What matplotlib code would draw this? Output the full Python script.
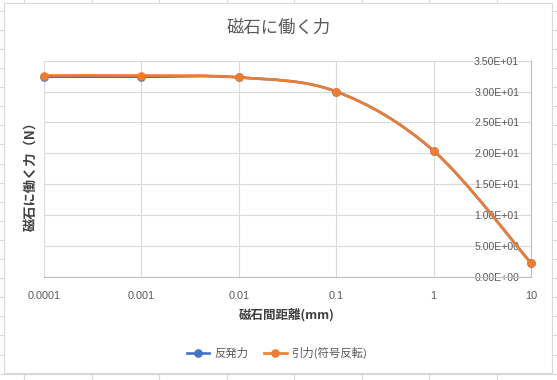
import numpy as np
import matplotlib
matplotlib.use("Agg")
import matplotlib.pyplot as plt
from matplotlib.path import Path
from matplotlib.patches import PathPatch, Rectangle
from matplotlib.lines import Line2D
from matplotlib.ticker import FuncFormatter

# data
distance_mm = [0.0001, 0.001, 0.01, 0.1, 1, 10]
repulsion = [32.4, 32.4, 32.3, 30.0, 20.4, 2.2]
attraction_inv = [32.6, 32.6, 32.3, 30.0, 20.4, 2.2]
series_names = ['反発力', '引力(符号反転)']
series_colors = ['#4472C4', '#ED7D31']
x_ticks = [0.0001, 0.001, 0.01, 0.1, 1, 10]
x_tick_labels = ['0.0001', '0.001', '0.01', '0.1', '1', '10']
y_ticks = [0, 5, 10, 15, 20, 25, 30, 35]

W, H = 557, 380
CJK = ['Noto Sans CJK JP', 'DejaVu Sans']
TXT = '#595959'
GRID = '#d9d9d9'


def fx(px):
    return px / W


def fy(py):
    return 1 - py / H


def smooth_path(xs, ys):
    # Excel-like smoothed line: Catmull-Rom bezier built in log-x space
    u = np.log10(np.asarray(xs, float))
    v = np.asarray(ys, float)
    pts = np.column_stack([u, v])
    ext = np.vstack([pts[:1], pts, pts[-1:]])
    verts = [pts[0]]
    codes = [Path.MOVETO]
    for i in range(len(pts) - 1):
        p0, p1, p2, p3 = ext[i], ext[i + 1], ext[i + 2], ext[i + 3]
        verts += [p1 + (p2 - p0) / 6, p2 - (p3 - p1) / 6, p2]
        codes += [Path.CURVE4] * 3
    verts = np.array(verts)
    verts[:, 0] = 10 ** verts[:, 0]
    return Path(verts, codes)


fig = plt.figure(figsize=(W / 100, H / 100), dpi=100)
fig.patch.set_facecolor('white')

# worksheet cells behind the chart
for k in range(9):
    x = 24 + 67.5 * k
    fig.add_artist(Line2D([fx(x), fx(x)], [0, 1], transform=fig.transFigure,
                          color=GRID, lw=0.8, zorder=0.5))
for k in range(21):
    y = 10.7 + 19.1 * k
    fig.add_artist(Line2D([0, 1], [fy(y), fy(y)], transform=fig.transFigure,
                          color=GRID, lw=0.8, zorder=0.5))
fig.add_artist(Rectangle((fx(4), fy(373)), fx(552) - fx(4), fy(3) - fy(373),
                         transform=fig.transFigure, facecolor='white',
                         edgecolor=GRID, lw=0.8, zorder=1))

ax = fig.add_axes([fx(44), fy(276.7), fx(531) - fx(44), fy(60.7) - fy(276.7)])
ax.set_zorder(2)
ax.patch.set_alpha(0)
ax.set_xscale('log')
ax.set_xlim(1e-4, 10)
ax.set_ylim(0, 35)

for ys, col in zip([repulsion, attraction_inv], series_colors):
    ax.add_patch(PathPatch(smooth_path(distance_mm, ys), facecolor='none',
                           edgecolor=col, lw=1.9, capstyle='round', zorder=3))
    ax.plot(distance_mm, ys, 'o', color=col, ms=5.2, zorder=4, clip_on=False)

ax.set_xticks(x_ticks)
ax.set_xticklabels(x_tick_labels)
ax.xaxis.set_minor_locator(plt.NullLocator())
ax.set_yticks(y_ticks)
ax.yaxis.set_major_formatter(FuncFormatter(lambda v, p: f'{v:.2E}'))
ax.yaxis.set_ticks_position('right')
ax.tick_params(axis='x', length=0, pad=10, labelsize=7.8, labelcolor=TXT)
ax.tick_params(axis='y', length=0, pad=-8.5, labelsize=7.6, labelcolor=TXT,
               labelright=True, labelleft=False)
for t in ax.get_yticklabels():
    t.set_ha('right')
    t.set_family('Liberation Sans')
for t in ax.get_xticklabels():
    t.set_family('Liberation Sans')

ax.grid(True, which='major', color=GRID, lw=0.8)
ax.set_axisbelow(True)
for s in ['top', 'left']:
    ax.spines[s].set_visible(False)
ax.spines['bottom'].set_color('#bfbfbf')
ax.spines['right'].set_color('#bfbfbf')
ax.spines['bottom'].set_linewidth(0.8)
ax.spines['right'].set_linewidth(0.8)

fig.text(0.5, fy(28), '磁石に働く力', ha='center', va='center',
         fontsize=12.5, color=TXT, family=CJK)
fig.text(fx(287), fy(315), '磁石間距離(mm)', ha='center', va='center',
         fontsize=9, fontweight='bold', color='#404040', family=CJK)
fig.text(fx(31), fy(173), '磁石に働く力（N）', ha='center', va='center',
         rotation=90, fontsize=9.5, fontweight='bold', color='#404040', family=CJK)

handles = [Line2D([], [], color=c, lw=1.9, marker='o', ms=5.2) for c in series_colors]
leg = fig.legend(handles, series_names, loc='center', bbox_to_anchor=(fx(277), fy(353)),
                 ncol=2, frameon=False, handlelength=2.0, handletextpad=0.4,
                 columnspacing=1.4, prop={'family': CJK, 'size': 8.2})
for t in leg.get_texts():
    t.set_color(TXT)

fig.savefig('out.png', dpi=100)
